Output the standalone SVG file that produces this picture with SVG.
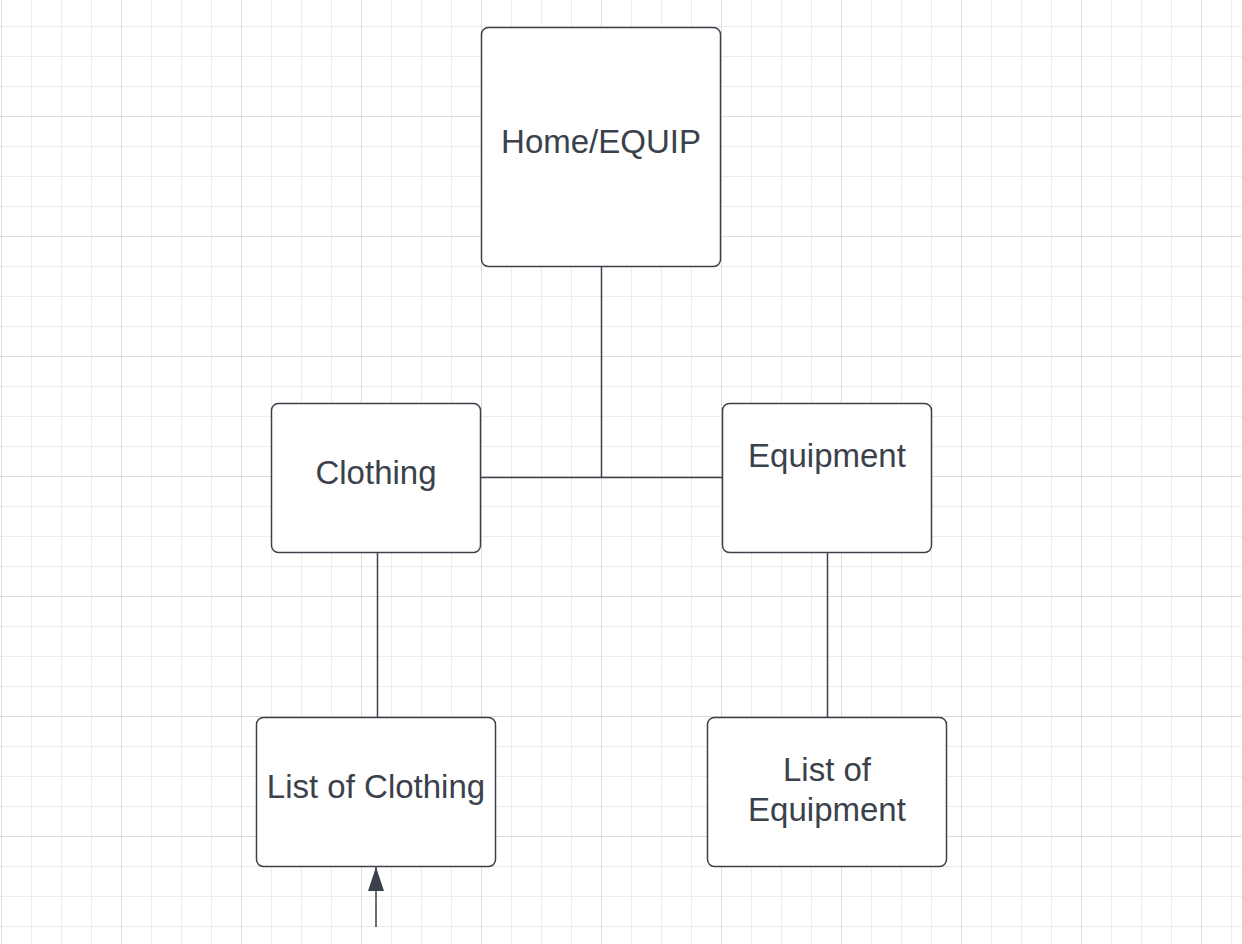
<svg xmlns="http://www.w3.org/2000/svg" width="1242" height="944" viewBox="0 0 1242 944">
<defs>
<pattern id="minor" x="1" y="26" width="30" height="30" patternUnits="userSpaceOnUse">
<path d="M0.5 0V30M0 0.5H30" fill="none" stroke="#ececec" stroke-width="1"/>
</pattern>
<pattern id="major" x="1" y="116" width="120" height="120" patternUnits="userSpaceOnUse">
<path d="M0.5 0V120M0 0.5H120" fill="none" stroke="#dcdcdc" stroke-width="1"/>
</pattern>
<marker id="arrow" markerWidth="24" markerHeight="16" refX="24" refY="8" viewBox="0 0 24 16" markerUnits="userSpaceOnUse" orient="auto">
<path d="M0 0L24 8L0 16Z" fill="#3a414a"/>
</marker>
</defs>
<style>
.node rect{fill:#ffffff;stroke:#3a414a;stroke-width:1.5}
.node text{font-family:"Liberation Sans",Arial,sans-serif;font-size:33px;fill:#3a414a;text-anchor:middle}
.conn line{stroke:#3a414a;stroke-width:1.5;fill:none}
</style>
<rect width="1242" height="944" fill="#ffffff"/>
<rect width="1242" height="944" fill="url(#minor)"/>
<rect width="1242" height="944" fill="url(#major)"/>
<g id="connectors" class="conn">
<line x1="601.5" y1="267" x2="601.5" y2="478"/>
<line x1="481" y1="477.5" x2="722" y2="477.5"/>
<line x1="377.5" y1="552" x2="377.5" y2="717"/>
<line x1="827.5" y1="552" x2="827.5" y2="717"/>
<line x1="376" y1="927" x2="376" y2="867" stroke-width="2" marker-end="url(#arrow)"/>
</g>
<g id="home" class="node">
<rect x="481.5" y="27.5" width="239" height="239" rx="7"/>
<text x="601" y="153">Home/EQUIP</text>
</g>
<g id="clothing" class="node">
<rect x="271.5" y="403.5" width="209" height="149" rx="7"/>
<text x="376" y="484">Clothing</text>
</g>
<g id="equipment" class="node">
<rect x="722.5" y="403.5" width="209" height="149" rx="7"/>
<text x="827" y="467">Equipment</text>
</g>
<g id="list-clothing" class="node">
<rect x="256.5" y="717.5" width="239" height="149" rx="7"/>
<text x="376" y="798">List of Clothing</text>
</g>
<g id="list-equipment" class="node">
<rect x="707.5" y="717.5" width="239" height="149" rx="7"/>
<text x="827" y="781">List of</text>
<text x="827" y="821">Equipment</text>
</g>
</svg>
